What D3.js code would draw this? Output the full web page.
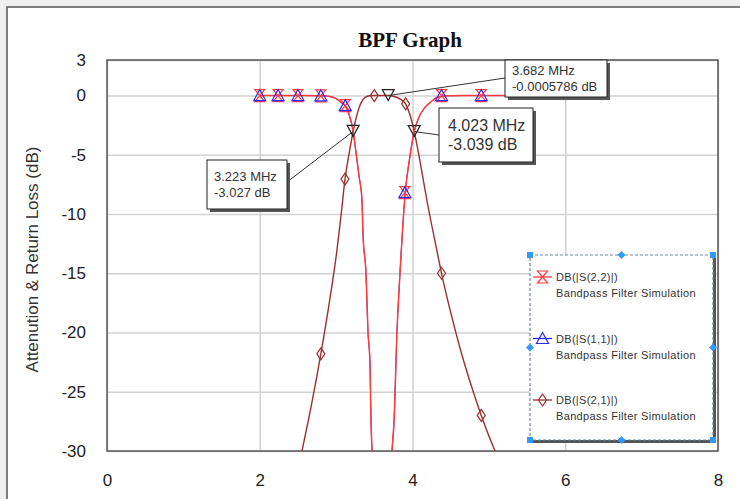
<!DOCTYPE html>
<html>
<head>
<meta charset="utf-8">
<script src="https://cdn.jsdelivr.net/npm/d3@7"></script>
<style>
  body { margin: 0; background: #f0f0f0; }
  svg { display: block; }
</style>
</head>
<body>
<div id="chart"></div>
<script>
// frequency (MHz) / dB values
let s11Freq = [2.0, 2.2, 2.4, 2.6, 2.8, 2.9, 2.96, 3.02, 3.07, 3.12, 3.17, 3.223, 3.26, 3.3, 3.339, 3.352, 3.391, 3.417, 3.443, 3.457, 3.47, 3.52, 3.6, 3.68, 3.732, 3.758, 3.797, 3.836, 3.87, 3.905, 3.96, 4.023, 4.08, 4.15, 4.23, 4.33, 4.45, 4.7, 5.0, 5.3, 5.5];
let s11Db = [0, 0, 0, 0, -0.02, -0.06, -0.15, -0.35, -0.6, -0.9, -1.6, -3.027, -4.8, -6.8, -8.9, -11.7, -15, -19.9, -22.6, -27.5, -30, -38, -45, -38, -30, -27.5, -19.9, -15, -11.3, -8.2, -5.4, -3.039, -1.9, -1.1, -0.6, -0.15, -0.02, 0, 0, 0, 0];
let s22Db = [0, 0, 0, 0, -0.02, -0.06, -0.15, -0.35, -0.6, -0.9, -1.6, -3.027, -4.8, -6.8, -8.9, -11.7, -15, -19.9, -22.6, -27.5, -30, -38, -45, -38, -30, -27.5, -19.9, -15, -11.3, -8.2, -5.4, -3.039, -1.9, -1.1, -0.6, -0.15, -0.02, 0, 0, 0, 0];

let s21Freq = [2.0, 2.3, 2.553, 2.68, 2.8, 2.92, 3.01, 3.07, 3.116, 3.17, 3.223, 3.27, 3.32, 3.38, 3.44, 3.5, 3.6, 3.682, 3.76, 3.84, 3.91, 3.96, 4.023, 4.1, 4.19, 4.32, 4.38, 4.5, 4.63, 4.77, 4.9, 5.08, 5.3, 5.5];
let s21Db = [-45, -38, -30, -26, -21.8, -17.1, -13.1, -9.8, -7.05, -4.9, -3.027, -1.7, -0.7, -0.15, -0.02, 0, 0, -0.0005786, -0.08, -0.3, -0.7, -1.5, -3.039, -5.6, -8.9, -13.1, -15, -18.3, -21.5, -24.5, -27, -30, -33, -35];

// marker points
let s11MarkFreq = [2.0, 2.24, 2.5, 2.8, 3.12, 3.9, 4.38, 4.9];
let s11MarkDb = [0, 0, 0, -0.02, -0.85, -8.2, 0, 0];
let s21MarkFreq = [2.8, 3.116, 3.5, 3.91, 4.38, 4.9];
let s21MarkDb = [-21.8, -7.05, 0, -0.7, -15, -27];

// annotated markers
let noteFreq = [3.223, 3.682, 4.023];
let noteDb = [-3.027, -0.0005786, -3.039];
let noteText = [["3.223 MHz", "-3.027 dB"], ["3.682 MHz", "-0.0005786 dB"], ["4.023 MHz", "-3.039 dB"]];

let xTicks = [0, 2, 4, 6, 8];
let yTicks = [3, 0, -5, -10, -15, -20, -25, -30];

let legendNames = ["DB(|S(2,2)|)", "DB(|S(1,1)|)", "DB(|S(2,1)|)"];
let legendSub = "Bandpass Filter Simulation";

let width = 740,
    height = 499,
    margin = {left: 107, top: 60, right: 22, bottom: 48},
    plotWidth = width - margin.left - margin.right,
    plotHeight = height - margin.top - margin.bottom;

let red = '#ff3b3b', blue = '#2a2aff', brown = '#9a3030';

let svg = d3.select('#chart').append('svg')
    .attr('width', width)
    .attr('height', height)
    .style('font-family', 'Arial, "Liberation Sans", sans-serif');

// outer window frame
svg.append('rect')
    .attr('x', 7).attr('y', 7)
    .attr('width', width).attr('height', height)
    .attr('fill', '#fff')
    .attr('stroke', '#555')
    .attr('stroke-width', 1.5);

svg.append('text')
    .attr('x', 410).attr('y', 47)
    .attr('text-anchor', 'middle')
    .style('font-family', '"Liberation Serif", "Times New Roman", serif')
    .style('font-weight', 'bold')
    .style('font-size', '21px')
    .attr('fill', '#111')
    .text('BPF Graph');

svg.append('text')
    .attr('transform', `translate(38, ${margin.top + plotHeight / 2 + 4}) rotate(-90)`)
    .attr('text-anchor', 'middle')
    .style('font-size', '17px')
    .attr('fill', '#333')
    .text('Attenution & Return Loss (dB)');

let g = svg.append('g')
    .attr('transform', `translate(${margin.left}, ${margin.top})`);

let xScale = d3.scaleLinear().domain([0, 8]).range([0, plotWidth]);
let yScale = d3.scaleLinear().domain([-30, 3]).range([plotHeight, 0]);

// grid + tick labels (plain hyphen minus like the original)
let yAxis = g.append('g')
    .call(d3.axisLeft(yScale).tickValues(yTicks).tickSize(-plotWidth).tickPadding(21).tickFormat(d => String(d)));
yAxis.select('.domain').remove();
yAxis.selectAll('line').attr('stroke', '#d2d2d2').attr('stroke-width', 1.5);
yAxis.selectAll('text').style('font-size', '17px').attr('fill', '#222').attr('x', -21);

let xAxis = g.append('g')
    .attr('transform', `translate(0, ${plotHeight})`)
    .call(d3.axisBottom(xScale).tickValues(xTicks).tickSize(-plotHeight).tickPadding(23).tickFormat(d => String(d)));
xAxis.select('.domain').remove();
xAxis.selectAll('line').attr('stroke', '#d2d2d2').attr('stroke-width', 1.5);
xAxis.selectAll('text').style('font-size', '17px').attr('fill', '#222').attr('y', 23);

g.append('rect')
    .attr('width', plotWidth).attr('height', plotHeight)
    .attr('fill', 'none')
    .attr('stroke', '#555')
    .attr('stroke-width', 1.5);

g.append('clipPath').attr('id', 'plotClip')
    .append('rect').attr('width', plotWidth).attr('height', plotHeight);

let curves = g.append('g').attr('clip-path', 'url(#plotClip)');

let line = d3.line()
    .x(d => xScale(d[0]))
    .y(d => yScale(d[1]))
    .curve(d3.curveMonotoneX);

function drawCurve(freq, db, color, w) {
    curves.append('path')
        .datum(d3.zip(freq, db))
        .attr('d', line)
        .attr('fill', 'none')
        .attr('stroke', color)
        .attr('stroke-width', w);
}

drawCurve(s11Freq, s11Db, blue, 1);
drawCurve(s21Freq, s21Db, brown, 1.4);
drawCurve(s11Freq, s22Db, red, 1.5);

let shapes = {
    hourglass: 'M-5,-6L5,-6L-5,6L5,6Z',
    triangle: 'M0,-6L6,5L-6,5Z',
    diamond: 'M0,-6L4,0L0,6L-4,0Z',
    down: 'M-6,-6L6,-6L0,5Z'
};

function drawMarkers(freq, db, shape, color) {
    curves.append('g')
        .selectAll('path')
        .data(d3.zip(freq, db))
        .join('path')
        .attr('transform', d => `translate(${xScale(d[0])}, ${yScale(d[1])})`)
        .attr('d', shapes[shape])
        .attr('fill', 'none')
        .attr('stroke', color)
        .attr('stroke-width', 1.2);
}

drawMarkers(s11MarkFreq, s11MarkDb, 'hourglass', red);
drawMarkers(s11MarkFreq, s11MarkDb, 'triangle', blue);
drawMarkers(s21MarkFreq, s21MarkDb, 'diamond', brown);
drawMarkers(noteFreq, noteDb, 'down', '#222');

// annotation boxes (pixel layout inside plot)
let noteBoxes = [
    {x: 100, y: 100, w: 80, h: 49, size: 13, anchorX: 80, anchorY: 22},
    {x: 398, y: 0, w: 102, h: 37, size: 13, anchorX: 0, anchorY: 18},
    {x: 332, y: 48, w: 94, h: 54, size: 16, anchorX: 0, anchorY: 27}
];

let notes = g.append('g');
noteBoxes.forEach((b, i) => {
    notes.append('line')
        .attr('x1', b.x + b.anchorX).attr('y1', b.y + b.anchorY)
        .attr('x2', xScale(noteFreq[i])).attr('y2', yScale(noteDb[i]))
        .attr('stroke', '#333')
        .attr('stroke-width', 1);
    notes.append('rect')
        .attr('x', b.x + 3).attr('y', b.y + 3)
        .attr('width', b.w).attr('height', b.h)
        .attr('fill', '#555');
    notes.append('rect')
        .attr('x', b.x).attr('y', b.y)
        .attr('width', b.w).attr('height', b.h)
        .attr('fill', '#fff')
        .attr('stroke', '#222')
        .attr('stroke-width', 1);
    notes.append('text')
        .attr('x', b.x + (b.size > 13 ? 9 : 7))
        .attr('y', b.y + b.h / 2)
        .style('font-size', b.size + 'px')
        .attr('fill', '#333')
        .selectAll('tspan')
        .data(noteText[i])
        .join('tspan')
        .attr('x', b.x + (b.size > 13 ? 9 : 7))
        .attr('dy', (d, j) => j === 0 ? -b.size * 0.25 + 'px' : b.size * 1.2 + 'px')
        .text(d => d);
});

// legend
let lg = svg.append('g').attr('transform', 'translate(530, 255)');
let lgW = 183, lgH = 185;

lg.append('rect').attr('x', lgW - 2).attr('y', 3).attr('width', 5).attr('height', lgH).attr('fill', '#555');
lg.append('rect').attr('x', 3).attr('y', lgH - 2).attr('width', lgW).attr('height', 5).attr('fill', '#555');
lg.append('rect')
    .attr('width', lgW).attr('height', lgH)
    .attr('fill', '#fff')
    .attr('stroke', '#6f87a8')
    .attr('stroke-width', 1.2)
    .attr('stroke-dasharray', '3,2');

let legendColors = [red, blue, brown];
let legendShapes = ['hourglass', 'triangle', 'diamond'];

legendNames.forEach((name, i) => {
    let y = 22 + i * 61.5;
    lg.append('line')
        .attr('x1', 3).attr('x2', 22).attr('y1', y).attr('y2', y)
        .attr('stroke', legendColors[i]).attr('stroke-width', 1.3);
    lg.append('path')
        .attr('transform', `translate(12.5, ${y})`)
        .attr('d', shapes[legendShapes[i]])
        .attr('fill', 'none')
        .attr('stroke', legendColors[i])
        .attr('stroke-width', 1.2);
    lg.append('text')
        .attr('x', 26).attr('y', y + 4)
        .style('font-size', '11px')
        .style('letter-spacing', '0.3px')
        .attr('fill', '#333')
        .text(name);
    lg.append('text')
        .attr('x', 26).attr('y', y + 20)
        .style('font-size', '11px')
        .style('letter-spacing', '0.35px')
        .attr('fill', '#333')
        .text(legendSub);
});

// selection handles
let handleBlue = '#3399ff';
[[0, 0], [lgW, 0], [0, lgH], [lgW, lgH]].forEach(p => {
    lg.append('rect')
        .attr('x', p[0] - 3).attr('y', p[1] - 3)
        .attr('width', 6).attr('height', 6)
        .attr('fill', handleBlue);
});
[[lgW / 2, 0], [0, lgH / 2], [lgW, lgH / 2], [lgW / 2, lgH]].forEach(p => {
    lg.append('path')
        .attr('transform', `translate(${p[0]}, ${p[1]})`)
        .attr('d', 'M0,-4L4,0L0,4L-4,0Z')
        .attr('fill', handleBlue);
});
</script>
</body>
</html>
